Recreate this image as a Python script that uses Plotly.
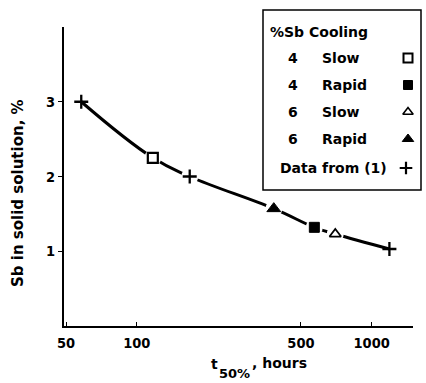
import plotly.graph_objects as go

# Measured points: t50% (hours) vs Sb in solid solution (%)
lit_t = [58, 168, 1190]          # data from (1)
lit_sb = [3.0, 2.0, 1.03]
slow4_t = [117]
slow4_sb = [2.25]
rapid4_t = [570]
rapid4_sb = [1.32]
slow6_t = [700]
slow6_sb = [1.23]
rapid6_t = [383]
rapid6_sb = [1.57]

x_ticks = [50, 100, 500, 1000]
y_ticks = [1, 2, 3]

FONT = "DejaVu Sans"
TICKFONT = "DejaVu Sans Condensed"
W, H = 426, 383
ML, MR, MT, MB = 64, 13, 27, 57
PW, PH = W - ML - MR, H - MT - MB


def px(x):
    return (x - ML) / PW


def py(y):
    return (H - MB - y) / PH


fig = go.Figure()

# smooth curve through all points
pts = sorted(zip(lit_t + slow4_t + rapid4_t + slow6_t + rapid6_t,
                 lit_sb + slow4_sb + rapid4_sb + slow6_sb + rapid6_sb))
fig.add_trace(go.Scatter(x=[p[0] for p in pts], y=[p[1] for p in pts],
                         mode="lines", line=dict(color="black", width=3,
                                                 shape="spline", smoothing=1.2),
                         hoverinfo="skip", showlegend=False))

# white halos to break the curve around the symbols
fig.add_trace(go.Scatter(x=[p[0] for p in pts[1:-1]], y=[p[1] for p in pts[1:-1]],
                         mode="markers",
                         marker=dict(symbol="circle", size=17, color="white", line=dict(width=0)),
                         hoverinfo="skip", showlegend=False))


def mk(x, y, symbol, size, fill, lw=2):
    fig.add_trace(go.Scatter(x=x, y=y, mode="markers",
                             marker=dict(symbol=symbol, size=size, color=fill,
                                         line=dict(color="black", width=lw)),
                             showlegend=False, cliponaxis=False))


mk(lit_t, lit_sb, "cross-thin", 10, "black", 2.3)
mk(slow4_t, slow4_sb, "square", 10, "white", 2.2)
mk(rapid4_t, rapid4_sb, "square", 10, "black", 1)
mk(slow6_t, slow6_sb, "triangle-up", 10, "white", 1.8)
mk(rapid6_t, rapid6_sb, "triangle-up", 12, "black", 1)


# overlay axis in pixel units for the key symbols
def key_mk(x, y, symbol, size, fill, lw=2):
    fig.add_trace(go.Scatter(x=[x], y=[y], mode="markers", xaxis="x2", yaxis="y2",
                             marker=dict(symbol=symbol, size=size, color=fill,
                                         line=dict(color="black", width=lw)),
                             showlegend=False, cliponaxis=False))


key_mk(408, 58, "square", 9, "white", 2)
key_mk(408, 85, "square", 9, "black", 1)
key_mk(408, 112, "triangle-up", 9, "white", 1.6)
key_mk(408, 139, "triangle-up", 10, "black", 1)
key_mk(406, 168, "cross-thin", 9, "black", 2.2)

ann = []


def txt(x, y, s, size=14, anchor="left", angle=0):
    ann.append(dict(x=px(x), y=py(y), xref="paper", yref="paper", text=s,
                    showarrow=False, xanchor=anchor, yanchor="middle", textangle=angle,
                    font=dict(family=FONT, size=size, color="black", weight="bold")))


txt(268, 32, "%Sb Cooling")
rows = [("4", "Slow", 58), ("4", "Rapid", 85), ("6", "Slow", 112), ("6", "Rapid", 139)]
for a, b, y in rows:
    txt(286, y, a)
    txt(320, y, b)
txt(278, 168, "Data from (1)")

# axis titles
txt(18, 193, "Sb in solid solution, %", size=15, anchor="center", angle=-90)
txt(209, 364, "t")
txt(217, 373, "50%", size=13)
txt(250, 363, ", hours")

# key frame
shapes = [dict(type="rect", xref="paper", yref="paper",
               x0=px(263), x1=px(421), y0=py(190), y1=py(10),
               line=dict(color="black", width=1.5), fillcolor="rgba(0,0,0,0)")]

tickfont = dict(family=TICKFONT, size=14.5, color="black", weight="bold")
fig.update_layout(
    width=W, height=H,
    margin=dict(l=ML, r=MR, t=MT, b=MB),
    paper_bgcolor="white", plot_bgcolor="white",
    annotations=ann, shapes=shapes,
    xaxis=dict(type="log", range=[1.69, 3.176], tickvals=x_ticks,
               ticktext=[str(v) for v in x_ticks],
               showgrid=False, zeroline=False, showline=True, linecolor="black",
               linewidth=2, ticks="inside", ticklen=4, tickwidth=1, tickcolor="black",
               ticklabelstandoff=3, tickfont=tickfont),
    yaxis=dict(range=[0, 4], tickvals=y_ticks, showgrid=False, zeroline=False,
               showline=True, linecolor="black", linewidth=2, ticks="outside",
               ticklen=4, tickwidth=1, tickcolor="black", tickfont=tickfont),
    xaxis2=dict(overlaying="x", range=[ML, W - MR], visible=False, fixedrange=True),
    yaxis2=dict(overlaying="y", range=[H - MB, MT], visible=False, fixedrange=True),
)

fig.write_html("out.html")
